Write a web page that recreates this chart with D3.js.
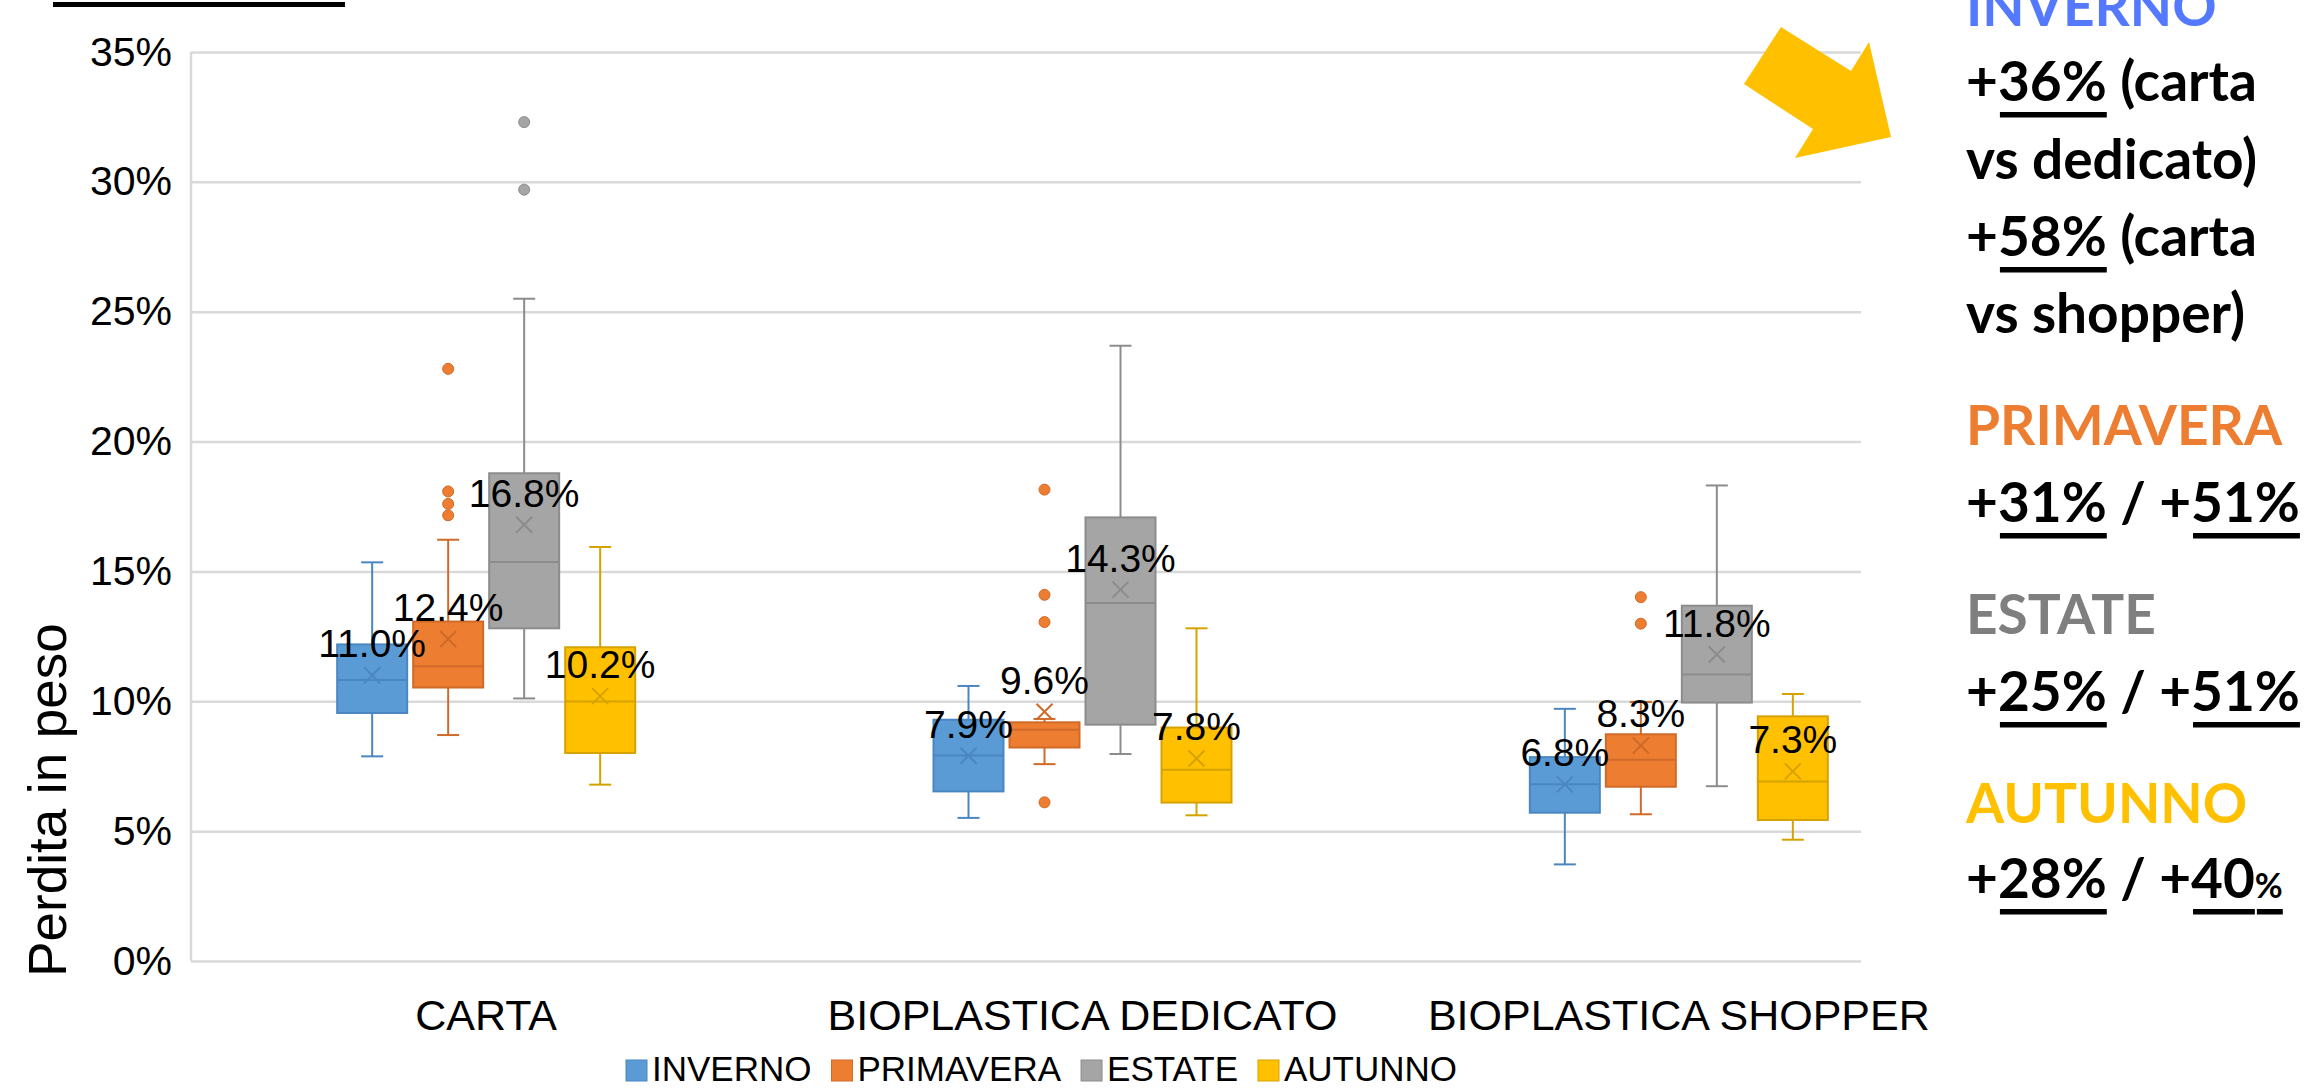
<!DOCTYPE html>
<html><head><meta charset="utf-8">
<script src="https://cdn.jsdelivr.net/npm/d3@7"></script>
<style>body{margin:0;background:#fff;} svg{display:block;} text{white-space:pre;}</style>
</head><body><svg id="c" width="2310" height="1088"></svg>
<script>
// ---------- data ----------
const categories = ["CARTA", "BIOPLASTICA DEDICATO", "BIOPLASTICA SHOPPER"];
const seasons = ["INVERNO", "PRIMAVERA", "ESTATE", "AUTUNNO"];
const yTicks = [0, 5, 10, 15, 20, 25, 30, 35];

// [whisker low, Q1, median, Q3, whisker high] per category
const invernoBox   = [[7.88, 9.55, 10.82, 12.19, 15.35], [5.51, 6.53, 7.91, 9.29, 10.59], [3.72, 5.71, 6.81, 7.85, 9.71]];
const primaveraBox = [[8.70, 10.53, 11.35, 13.07, 16.22], [7.58, 8.22, 8.90, 9.19, 9.32], [5.65, 6.71, 7.75, 8.73, 9.97]];
const estateBox    = [[10.11, 12.81, 15.36, 18.78, 25.50], [7.97, 9.10, 13.78, 17.08, 23.69], [6.73, 9.95, 11.03, 13.68, 18.31]];
const autunnoBox   = [[6.79, 8.01, 9.99, 12.08, 15.94], [5.61, 6.10, 7.36, 8.99, 12.81], [4.67, 5.43, 6.91, 9.42, 10.28]];

const invernoMean   = [11.0, 7.9, 6.8];
const primaveraMean = [12.4, 9.6, 8.3];
const estateMean    = [16.8, 14.3, 11.8];
const autunnoMean   = [10.2, 7.8, 7.3];

const invernoOutliers   = [[], [], []];
const primaveraOutliers = [[17.16, 17.60, 18.08, 22.80], [6.11, 13.05, 14.10, 18.15], [12.99, 14.01]];
const estateOutliers    = [[29.70, 32.30], [], []];
const autunnoOutliers   = [[], [], []];

const seasonFill   = ["#5B9BD5", "#ED7D31", "#A5A5A5", "#FFC000"];
const seasonStroke = ["#4A86C2", "#CF6A28", "#8C8C8C", "#D6A200"];

const boxes = [invernoBox, primaveraBox, estateBox, autunnoBox];
const means = [invernoMean, primaveraMean, estateMean, autunnoMean];
const outliers = [invernoOutliers, primaveraOutliers, estateOutliers, autunnoOutliers];

// ---------- chart ----------
const svg = d3.select("#c");
const FONT = "'Liberation Sans', Arial, sans-serif";

const y = d3.scaleLinear().domain([0, 35]).range([961, 52]);
const x = d3.scaleBand().domain(categories).range([188, 1977]);
const xs = d3.scaleBand().domain(seasons).range([-152, 152]).paddingInner(0.079).paddingOuter(0.0395);
const plotLeft = 191, plotRight = 1861;

// gridlines + y axis
const yAxis = d3.axisLeft(y).tickValues(yTicks).tickSize(-(plotRight - plotLeft)).tickPadding(19).tickFormat(d => d + "%");
const gy = svg.append("g").attr("transform", `translate(${plotLeft},0)`).call(yAxis);
gy.select(".domain").remove();
gy.selectAll(".tick line").attr("stroke", "#d9d9d9").attr("stroke-width", 2.5);
gy.selectAll(".tick text").attr("font-family", FONT).attr("font-size", 41).attr("fill", "#000");
svg.append("line").attr("x1", plotLeft).attr("x2", plotLeft).attr("y1", y(0)).attr("y2", y(35))
  .attr("stroke", "#d9d9d9").attr("stroke-width", 2.5);

// y title
svg.append("text").attr("transform", "translate(66,800) rotate(-90)").attr("text-anchor", "middle")
  .attr("font-family", FONT).attr("font-size", 53).attr("fill", "#000").text("Perdita in peso");

// category labels
svg.append("g").selectAll("text").data(categories).join("text")
  .attr("x", d => x(d) + x.bandwidth() / 2).attr("y", 1030).attr("text-anchor", "middle")
  .attr("font-family", FONT).attr("font-size", 43).attr("fill", "#000").text(d => d);

// boxes
const marks = svg.append("g");
const labels = svg.append("g");
seasons.forEach((s, i) => {
  categories.forEach((c, j) => {
    const [lo, q1, med, q3, hi] = boxes[i][j];
    const cx = x(c) + x.bandwidth() / 2 + xs(s) + xs.bandwidth() / 2;
    const bw = xs.bandwidth();
    const g = marks.append("g");
    const st = seasonStroke[i];
    // whiskers
    g.append("line").attr("x1", cx).attr("x2", cx).attr("y1", y(hi)).attr("y2", y(q3)).attr("stroke", st).attr("stroke-width", 2);
    g.append("line").attr("x1", cx).attr("x2", cx).attr("y1", y(q1)).attr("y2", y(lo)).attr("stroke", st).attr("stroke-width", 2);
    [lo, hi].forEach(v => g.append("line").attr("x1", cx - 11).attr("x2", cx + 11).attr("y1", y(v)).attr("y2", y(v)).attr("stroke", st).attr("stroke-width", 2));
    // box
    g.append("rect").attr("x", cx - bw / 2).attr("y", y(q3)).attr("width", bw).attr("height", y(q1) - y(q3))
      .attr("fill", seasonFill[i]).attr("stroke", st).attr("stroke-width", 2);
    g.append("line").attr("x1", cx - bw / 2).attr("x2", cx + bw / 2).attr("y1", y(med)).attr("y2", y(med)).attr("stroke", st).attr("stroke-width", 2);
    // mean X
    const my = y(means[i][j]);
    g.append("path").attr("d", `M${cx - 8},${my - 8}L${cx + 8},${my + 8}M${cx - 8},${my + 8}L${cx + 8},${my - 8}`)
      .attr("stroke", st).attr("stroke-width", 2).attr("fill", "none");
    // outliers
    g.selectAll("circle").data(outliers[i][j]).join("circle")
      .attr("cx", cx).attr("cy", d => y(d)).attr("r", 5.5).attr("fill", seasonFill[i]).attr("stroke", st).attr("stroke-width", 1);
    // label
    labels.append("text").attr("x", cx).attr("y", my - 18).attr("text-anchor", "middle")
      .attr("font-family", FONT).attr("font-size", 39).attr("fill", "#000").text(means[i][j].toFixed(1) + "%");
  });
});

// legend
const lg = svg.append("g");
let lx = 626;
seasons.forEach((s, i) => {
  lg.append("rect").attr("x", lx).attr("y", 1060).attr("width", 21).attr("height", 21)
    .attr("fill", seasonFill[i]).attr("stroke", seasonStroke[i]).attr("stroke-width", 1);
  const t = lg.append("text").attr("x", lx + 26).attr("y", 1081).attr("font-family", FONT).attr("font-size", 35).attr("fill", "#000").text(s);
  lx += 26 + t.node().getComputedTextLength() + 20;
});

// top decorative bar
svg.append("rect").attr("x", 53).attr("y", 2).attr("width", 292).attr("height", 5).attr("fill", "#000");

// arrow
const arrowPts = [[1781, 27], [1851, 71], [1869, 42], [1891, 137], [1795, 158], [1813, 129], [1744, 84]];
svg.append("path").attr("d", "M" + arrowPts.map(p => p.join(",")).join("L") + "Z").attr("fill", "#FFC000");

// right annotation panel
const noteFont = "Lato, 'Open Sans', sans-serif";
const noteSize = 55;
const noteLines = [
  { y: 26,  color: "#5479FF", segs: [["INVERNO"]] },
  { y: 101, segs: [["+"], ["36%", 1], [" (carta"]] },
  { y: 179, segs: [["vs dedicato)"]] },
  { y: 256, segs: [["+"], ["58%", 1], [" (carta"]] },
  { y: 333, segs: [["vs shopper)"]] },
  { y: 445, color: "#ED7D31", segs: [["PRIMAVERA"]] },
  { y: 522, segs: [["+"], ["31%", 1], [" / +"], ["51%", 1]] },
  { y: 634, color: "#7F7F7F", segs: [["ESTATE"]] },
  { y: 711, segs: [["+"], ["25%", 1], [" / +"], ["51%", 1]] },
  { y: 823, color: "#FFC000", segs: [["AUTUNNO"]] },
  { y: 898, segs: [["+"], ["28%", 1], [" / +"], ["40", 1], ["%", 1, 0.62]] }
];
const ng = svg.append("g");
noteLines.forEach(line => {
  let cx = 1966;
  line.segs.forEach(([t, u, sc]) => {
    const el = ng.append("text").attr("x", cx).attr("y", line.y).attr("font-family", noteFont)
      .attr("font-weight", 700).attr("font-size", noteSize * (sc || 1)).attr("fill", line.color || "#000").text(t);
    const w = el.node().getComputedTextLength();
    if (u) ng.append("rect").attr("x", cx + 2).attr("y", line.y + 11).attr("width", w - 2).attr("height", 5.5).attr("fill", "#000");
    cx += w;
  });
});
</script></body></html>
